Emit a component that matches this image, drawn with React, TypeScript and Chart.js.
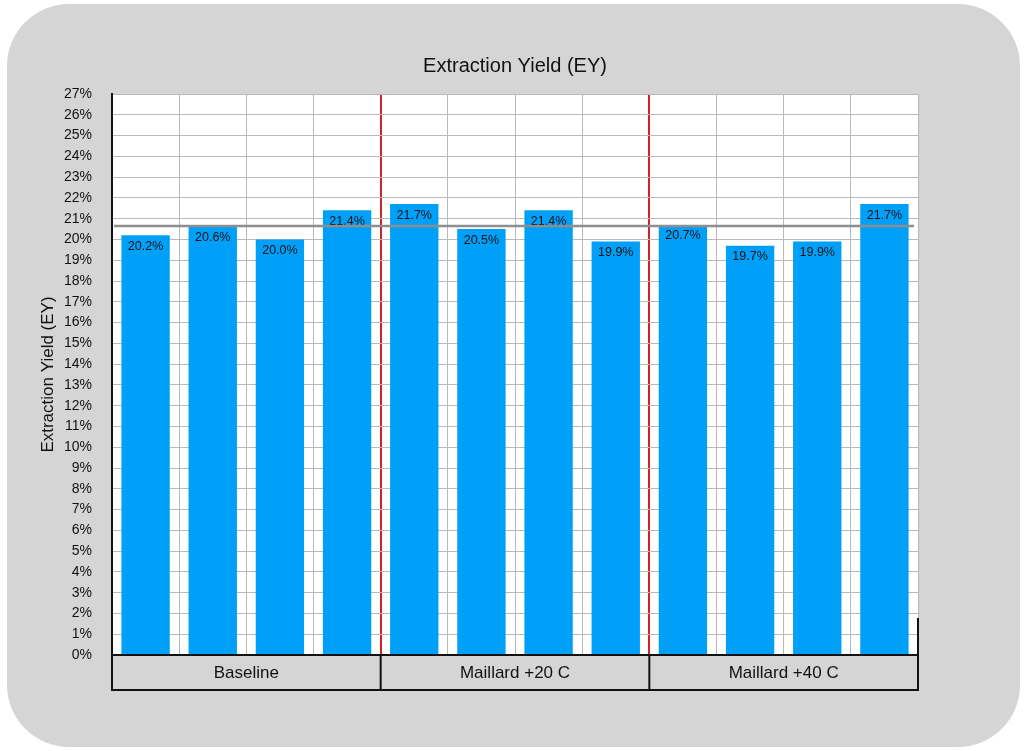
import { useEffect, useRef } from 'react';
import { Chart, registerables, Plugin } from 'chart.js';

Chart.register(...registerables);

// Extraction yield per brew, in %, four brews per roast profile
const runLabels = [
  'Baseline 1', 'Baseline 2', 'Baseline 3', 'Baseline 4',
  'Maillard +20 C 1', 'Maillard +20 C 2', 'Maillard +20 C 3', 'Maillard +20 C 4',
  'Maillard +40 C 1', 'Maillard +40 C 2', 'Maillard +40 C 3', 'Maillard +40 C 4',
];
const yieldValues = [20.2, 20.6, 20.0, 21.4, 21.7, 20.5, 21.4, 19.9, 20.7, 19.7, 19.9, 21.7];
const groupNames = ['Baseline', 'Maillard +20 C', 'Maillard +40 C'];
const groupSizes = [4, 4, 4];
const averageYield = 20.65;
const yMin = 0;
const yMax = 27;
const yStep = 1;

const FONT = '"Liberation Sans", Arial, Helvetica, sans-serif';
const PANEL_GRAY = '#d5d5d5';
const GRID_GRAY = '#b9b9b9';
const RED = '#d2222a';
const BAR_BLUE = '#00a0f9';

// indices of the grid lines that separate groups
const groupBreaks: number[] = [];
groupSizes.reduce((acc, n, i) => {
  const next = acc + n;
  if (i < groupSizes.length - 1) groupBreaks.push(next);
  return next;
}, 0);

const plotBackground: Plugin = {
  id: 'plotBackground',
  beforeDraw(chart) {
    const { ctx, chartArea } = chart;
    ctx.save();
    ctx.fillStyle = '#ffffff';
    ctx.fillRect(chartArea.left, chartArea.top, chartArea.right - chartArea.left, chartArea.bottom - chartArea.top);
    ctx.restore();
  },
};

// value labels inside the top of each bar (drawn before the average line)
const barLabels: Plugin = {
  id: 'barLabels',
  afterDatasetDraw(chart, args) {
    if (args.index !== 0) return;
    const { ctx } = chart;
    const meta = chart.getDatasetMeta(0);
    ctx.save();
    ctx.font = `12.5px ${FONT}`;
    ctx.fillStyle = '#111111';
    ctx.textAlign = 'center';
    ctx.textBaseline = 'middle';
    meta.data.forEach((bar: any, i) => {
      ctx.fillText(`${yieldValues[i].toFixed(1)}%`, bar.x, bar.y + 11);
    });
    ctx.restore();
  },
};

const averageLine: Plugin = {
  id: 'averageLine',
  afterDatasetsDraw(chart) {
    const { ctx, chartArea, scales } = chart;
    const y = scales.y.getPixelForValue(averageYield);
    ctx.save();
    ctx.strokeStyle = '#8e8e8e';
    ctx.lineWidth = 2.5;
    ctx.beginPath();
    ctx.moveTo(chartArea.left + 2, y);
    ctx.lineTo(chartArea.right - 4, y);
    ctx.stroke();
    ctx.restore();
  },
};

// boxed group labels under the plot
const groupBoxes: Plugin = {
  id: 'groupBoxes',
  afterDraw(chart) {
    const { ctx, chartArea, scales } = chart;
    const x = scales.x;
    const top = chartArea.bottom;
    const bottom = top + 35;
    const slot = (chartArea.right - chartArea.left) / runLabels.length;
    ctx.save();
    ctx.strokeStyle = '#111111';
    ctx.lineWidth = 2;
    ctx.strokeRect(chartArea.left, top, chartArea.right - chartArea.left, bottom - top);
    ctx.font = `17px ${FONT}`;
    ctx.fillStyle = '#111111';
    ctx.textAlign = 'center';
    ctx.textBaseline = 'middle';
    let start = 0;
    groupSizes.forEach((n, g) => {
      const left = x.getPixelForValue(start) - slot / 2;
      const right = x.getPixelForValue(start + n - 1) + slot / 2;
      if (g > 0) {
        ctx.beginPath();
        ctx.moveTo(left, top);
        ctx.lineTo(left, bottom);
        ctx.stroke();
      }
      ctx.fillText(groupNames[g], (left + right) / 2, (top + bottom) / 2 + 1);
      start += n;
    });
    // short right edge stub
    ctx.beginPath();
    ctx.moveTo(chartArea.right, top - 37);
    ctx.lineTo(chartArea.right, top);
    ctx.stroke();
    ctx.restore();
  },
};

export default function App() {
  const canvasRef = useRef<HTMLCanvasElement>(null);
  const chartRef = useRef<Chart | null>(null);

  useEffect(() => {
    if (!canvasRef.current) return;
    if (chartRef.current) chartRef.current.destroy();

    chartRef.current = new Chart(canvasRef.current, {
      type: 'bar',
      data: {
        labels: runLabels,
        datasets: [
          {
            label: 'Extraction Yield (EY)',
            data: yieldValues,
            backgroundColor: BAR_BLUE,
            borderWidth: 0,
            barPercentage: 0.72,
            categoryPercentage: 1,
          },
        ],
      },
      options: {
        animation: false,
        responsive: false,
        maintainAspectRatio: false,
        layout: { padding: { top: 54, left: 0, right: 106, bottom: 96 } },
        plugins: {
          legend: { display: false },
          tooltip: { enabled: false },
          title: {
            display: true,
            text: 'Extraction Yield (EY)',
            color: '#111111',
            font: { family: FONT, size: 20, weight: 'normal' },
            padding: { top: 0, bottom: 16 },
            fullSize: false,
          },
        },
        scales: {
          x: {
            ticks: { display: false },
            grid: {
              offset: true,
              drawTicks: false,
              color: (c: any) => (groupBreaks.includes(c.index) ? RED : GRID_GRAY),
              lineWidth: (c: any) => (groupBreaks.includes(c.index) ? 2 : 1),
            },
            border: { display: false },
            afterFit: (scale: any) => {
              scale.height = 0;
            },
          },
          y: {
            min: yMin,
            max: yMax,
            ticks: {
              stepSize: yStep,
              padding: 20,
              color: '#111111',
              font: { family: FONT, size: 14 },
              callback: (v) => `${v}%`,
            },
            grid: { color: GRID_GRAY, drawTicks: false },
            border: { color: '#111111', width: 2 },
            title: {
              display: true,
              text: 'Extraction Yield (EY)',
              color: '#111111',
              font: { family: FONT, size: 17 },
              padding: { top: 38, bottom: 0 },
            },
            afterFit: (scale: any) => {
              scale.width = 112;
            },
          },
        },
      },
      plugins: [plotBackground, barLabels, averageLine, groupBoxes],
    });

    return () => {
      if (chartRef.current) {
        chartRef.current.destroy();
        chartRef.current = null;
      }
    };
  }, []);

  return (
    <div style={{ position: 'absolute', left: 0, top: 0, width: 1024, height: 751, background: '#ffffff' }}>
      <div
        style={{
          position: 'absolute',
          left: 7,
          top: 4,
          width: 1013,
          height: 743,
          borderRadius: 62,
          background: PANEL_GRAY,
        }}
      />
      <canvas ref={canvasRef} width={1024} height={751} style={{ position: 'absolute', left: 0, top: 0, width: 1024, height: 751 }} />
    </div>
  );
}
